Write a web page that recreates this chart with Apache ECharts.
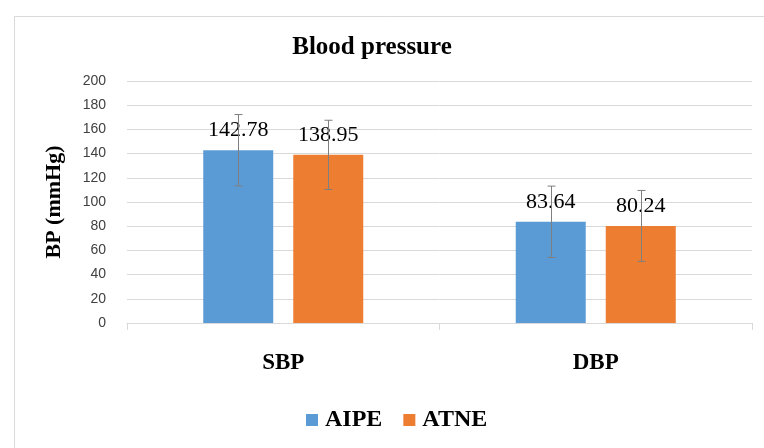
<!DOCTYPE html>
<html>
<head>
<meta charset="utf-8">
<script src="https://cdn.jsdelivr.net/npm/echarts@6/dist/echarts.min.js"></script>
<style>
html,body{margin:0;padding:0;background:#fff;}
#chart{width:764px;height:448px;}
</style>
</head>
<body>
<div id="chart"></div>
<script>
var categories = ['SBP', 'DBP'];
var seriesNames = ['AIPE', 'ATNE'];
var aipeValues = [142.78, 83.64];
var atneValues = [138.95, 80.24];
var aipeErr = [29.5, 29.5];
var atneErr = [28.6, 29.3];
var yTicks = { min: 0, max: 200, interval: 20 };

var colors = ['#5B9BD5', '#ED7D31'];
var serif = '"Liberation Serif", "Times New Roman", serif';
var BAR_FRAC = 0.224;
var GAP_FRAC = 0.286;

function errorSeries(values, errs, sign) {
  return {
    type: 'custom',
    z: 10,
    silent: true,
    data: values.map(function (v, i) { return [i, v - errs[i], v + errs[i]]; }),
    renderItem: function (params, api) {
      var band = api.size([1, 0])[0];
      var bw = band * BAR_FRAC;
      var off = sign * (bw + bw * GAP_FRAC) / 2;
      var lo = api.coord([api.value(0), api.value(1)]);
      var hi = api.coord([api.value(0), api.value(2)]);
      var x = Math.round(lo[0] + off) + 0.5;
      var cap = 4;
      var st = { stroke: '#7f7f7f', lineWidth: 1 };
      return {
        type: 'group',
        children: [
          { type: 'line', shape: { x1: x, y1: lo[1], x2: x, y2: hi[1] }, style: st },
          { type: 'line', shape: { x1: x - cap, y1: hi[1], x2: x + cap, y2: hi[1] }, style: st },
          { type: 'line', shape: { x1: x - cap, y1: lo[1], x2: x + cap, y2: lo[1] }, style: st }
        ]
      };
    }
  };
}

var chart = echarts.init(document.getElementById('chart'), null, { renderer: 'canvas' });
chart.setOption({
  animation: false,
  backgroundColor: '#ffffff',
  graphic: [{
    type: 'rect',
    left: 12, top: 14,
    shape: { width: 800, height: 440 },
    style: { fill: 'none', stroke: '#d9d9d9', lineWidth: 1 },
    silent: true
  }],
  title: {
    text: 'Blood pressure',
    left: 372, textAlign: 'center',
    top: 35,
    padding: 0,
    textStyle: { fontFamily: serif, fontWeight: 'bold', fontSize: 25, color: '#000' }
  },
  legend: {
    data: seriesNames,
    left: 306,
    top: 408,
    padding: 0,
    itemWidth: 12, itemHeight: 12,
    itemGap: 21,
    icon: 'rect',
    textStyle: { fontFamily: serif, fontWeight: 'bold', fontSize: 24, color: '#000', padding: [0, 0, 0, 2] }
  },
  grid: { left: 127, right: 12, top: 81, bottom: 125, containLabel: false },
  xAxis: {
    type: 'category',
    data: categories,
    axisLine: { lineStyle: { color: '#d9d9d9' } },
    axisTick: { show: true, length: 7, lineStyle: { color: '#d9d9d9' } },
    axisLabel: { margin: 29, fontFamily: serif, fontWeight: 'bold', fontSize: 23, color: '#000' }
  },
  yAxis: {
    type: 'value',
    min: yTicks.min, max: yTicks.max, interval: yTicks.interval,
    name: 'BP (mmHg)',
    nameLocation: 'middle',
    nameGap: 62,
    nameTextStyle: { fontFamily: serif, fontWeight: 'bold', fontSize: 22, color: '#000' },
    axisLine: { show: false },
    axisTick: { show: false },
    splitLine: { lineStyle: { color: '#d9d9d9' } },
    axisLabel: { margin: 21, fontFamily: '"Liberation Sans", Arial, sans-serif', fontSize: 14, color: '#404040' }
  },
  series: [
    {
      name: seriesNames[0], type: 'bar', data: aipeValues,
      barWidth: (BAR_FRAC * 100) + '%', barGap: (GAP_FRAC * 100) + '%',
      itemStyle: { color: colors[0] },
      label: { show: true, position: 'top', distance: 9, fontFamily: serif, fontSize: 22, color: '#000',
        formatter: function (p) { return p.value.toFixed(2); } }
    },
    {
      name: seriesNames[1], type: 'bar', data: atneValues,
      barWidth: (BAR_FRAC * 100) + '%', barGap: (GAP_FRAC * 100) + '%',
      itemStyle: { color: colors[1] },
      label: { show: true, position: 'top', distance: 9, fontFamily: serif, fontSize: 22, color: '#000',
        formatter: function (p) { return p.value.toFixed(2); } }
    },
    errorSeries(aipeValues, aipeErr, -1),
    errorSeries(atneValues, atneErr, 1)
  ]
});
</script>
</body>
</html>
